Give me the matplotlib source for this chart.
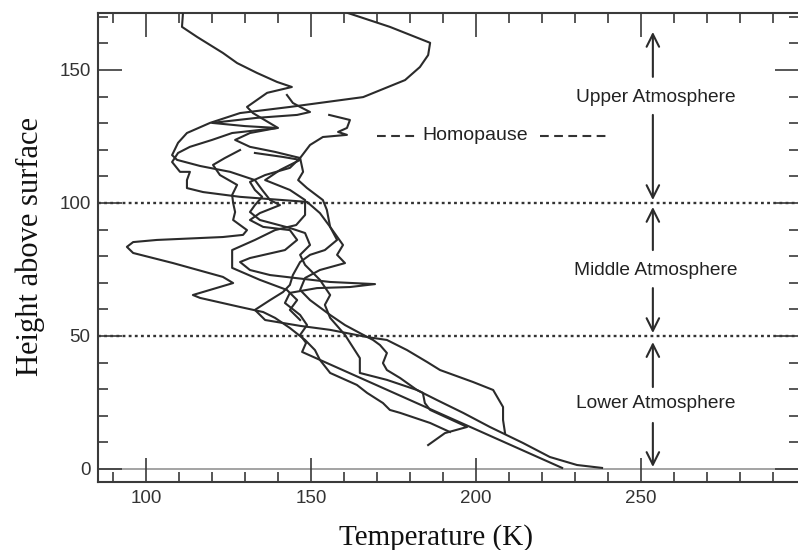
import matplotlib
matplotlib.use("Agg")
import matplotlib.pyplot as plt
from matplotlib.ticker import MultipleLocator

# Temperature profiles (K) against height above surface
temp_a = [111.2, 110.9, 115.5, 123.3, 127.6, 133.6, 139.7, 144.2, 136.7, 130.6, 132.4, 140.0,
          126.1, 120.0, 113.3, 109.7, 107.9, 110.3, 113.3, 112.4, 112.4, 117.3, 128.5, 148.8,
          152.7, 155.8, 157.9, 154.2, 149.7, 146.7, 144.5, 143.6, 141.5, 137.6, 133.0, 136.1,
          146.7, 155.8, 167.0, 173.0, 179.1, 185.2, 189.1, 199.1, 205.2, 208.2, 208.2, 208.8]
height_a = [171.4, 166.2, 162.4, 156.4, 152.6, 148.9, 145.5, 143.6, 141.4, 136.1, 133.8, 128.2,
            126.3, 123.7, 121.1, 118.8, 115.4, 111.7, 111.7, 108.6, 105.6, 104.1, 102.3, 100.4,
            96.2, 91.0, 86.1, 82.3, 80.5, 77.8, 72.9, 69.2, 66.5, 63.5, 59.8, 56.0,
            53.8, 52.3, 49.6, 48.5, 44.7, 40.2, 37.2, 32.7, 29.7, 23.3, 18.4, 13.5]

temp_b = [161.2, 173.9, 186.1, 185.5, 183.0, 178.5, 165.8, 143.6, 128.5, 119.4, 112.4, 109.7,
          107.9, 109.4, 116.4, 125.5, 133.0, 135.2, 137.6, 140.6, 134.5, 131.5, 135.5, 143.6,
          145.8, 142.1, 131.5, 128.5, 131.5, 137.6, 145.2, 155.8, 169.4, 161.8, 151.8, 143.6,
          142.1, 146.7, 148.8, 146.7, 148.5, 147.3, 226.1]
height_b = [171.4, 166.2, 160.2, 155.6, 151.1, 146.2, 139.8, 136.1, 133.8, 130.1, 126.3, 122.6,
            118.0, 116.2, 113.9, 111.7, 108.6, 104.9, 101.1, 99.2, 96.2, 93.6, 91.0, 89.8,
            86.1, 82.3, 79.3, 77.8, 74.8, 72.9, 71.8, 70.3, 69.5, 68.4, 68.0, 66.2,
            62.4, 57.9, 54.1, 50.4, 47.4, 44.0, 0.4]

temp_c = [155.5, 161.8, 160.9, 158.2, 160.9, 153.6, 149.7, 146.7, 147.6, 146.1, 148.8, 153.6,
          154.8, 155.8, 159.7, 157.9, 160.3, 152.7, 148.2, 146.7, 149.7, 155.8, 160.3, 164.8,
          168.8, 170.9, 173.0, 171.8, 173.0, 177.0, 182.1, 183.9, 184.5, 186.1, 196.1, 197.3,
          190.6, 185.5]
height_c = [133.1, 131.2, 128.2, 126.7, 125.6, 124.8, 121.8, 116.9, 111.7, 108.6, 105.6, 101.1,
            97.4, 91.0, 84.2, 80.5, 77.4, 74.8, 71.8, 67.3, 63.5, 57.9, 54.1, 51.1,
            48.5, 46.6, 43.6, 39.8, 37.2, 34.2, 29.7, 28.6, 24.8, 22.2, 16.5, 15.8,
            13.5, 9.0]

temp_d = [142.7, 144.5, 146.7, 149.7, 145.8, 133.6, 120.0, 130.0, 139.7, 131.5, 127.0, 131.5,
          139.1, 146.7, 143.6, 136.1, 131.5, 133.0, 135.2, 133.0, 131.5, 134.5, 143.6, 148.2,
          149.7, 146.7, 148.2, 152.7, 155.8, 154.2, 155.8, 160.3, 164.8, 164.8, 173.0, 182.1,
          188.2, 196.1, 204.2, 214.2, 222.4, 230.6, 238.2]
height_d = [140.6, 137.6, 136.1, 134.2, 133.1, 132.0, 130.1, 128.9, 128.2, 126.3, 123.7, 121.1,
            119.2, 116.9, 113.2, 110.5, 107.9, 104.9, 102.3, 99.2, 96.6, 93.6, 90.6, 88.7,
            84.2, 80.5, 76.7, 71.1, 65.4, 61.7, 56.8, 50.4, 41.7, 36.1, 33.5, 29.7,
            25.9, 21.1, 15.8, 9.8, 4.5, 1.5, 0.4]

temp_e = [128.5, 123.9, 120.3, 122.4, 127.6, 126.1, 126.4, 127.0, 126.4, 130.6, 129.4, 123.3,
          103.3, 96.1, 94.2, 96.1, 108.2, 123.3, 126.4, 114.2, 116.4, 128.5, 135.5, 139.1,
          143.6, 148.2, 151.2, 152.7, 155.8, 163.9, 167.0, 171.8, 173.9, 177.0, 186.1, 192.1]
height_e = [119.9, 116.9, 114.3, 110.5, 106.8, 103.0, 100.0, 96.6, 93.6, 89.8, 88.0, 87.2,
            86.1, 85.3, 83.5, 81.2, 77.4, 72.2, 69.9, 65.4, 64.3, 60.9, 59.0, 56.8,
            53.0, 48.5, 44.7, 41.0, 36.1, 31.6, 28.6, 24.8, 22.2, 21.1, 17.3, 13.9]

temp_f = [133.0, 141.5, 146.7, 140.6, 136.1, 143.6, 148.2, 148.2, 145.5, 139.1, 133.0, 126.1,
          126.1, 134.5, 142.7, 145.8, 143.6, 146.7]
height_f = [118.8, 117.3, 116.2, 112.4, 108.6, 104.9, 101.1, 95.5, 91.7, 89.8, 86.1, 82.3,
            75.6, 71.1, 67.3, 63.5, 59.8, 56.0]

profile_temps = [temp_a, temp_b, temp_c, temp_d, temp_e, temp_f]
profile_heights = [height_a, height_b, height_c, height_d, height_e, height_f]

region_boundaries = [50, 100]
region_names = ["Upper Atmosphere", "Middle Atmosphere", "Lower Atmosphere"]
region_label_heights = [139.5, 74.8, 24.8]
x_ticks = [100, 150, 200, 250]
y_ticks = [0, 50, 100, 150]

ink = "#2b2b2b"
fig = plt.figure(figsize=(7.98, 5.5), dpi=100)
ax = fig.add_axes([0.1222, 0.1236, 0.8791, 0.8527])
ax.set_xlim(85.3, 297.9)
ax.set_ylim(-4.9, 171.4)

# surface line and region boundaries
ax.axhline(0, color="#8a8a8a", lw=1.1, zorder=1)
for yb in region_boundaries:
    ax.axhline(yb, color="#333333", lw=1.7, ls=(0, (1.2, 1.4)), zorder=1)

for t, h in zip(profile_temps, profile_heights):
    ax.plot(t, h, color=ink, lw=1.5, solid_joinstyle="round", zorder=3)

# region arrows and labels
arrow_x = 253.6
arrow_kw = dict(arrowstyle="->,head_length=0.6,head_width=0.3", color=ink, lw=1.5,
                mutation_scale=15, shrinkA=0, shrinkB=0)
arrow_spans = [((147.4, 164.3), (133.1, 101.1)),
               ((82.3, 98.5), (68.0, 51.1)),
               ((30.8, 47.7), (17.3, 0.75))]
for (up, down), name, ly in zip(arrow_spans, region_names, region_label_heights):
    ax.annotate("", xy=(arrow_x, up[1]), xytext=(arrow_x, up[0]), arrowprops=arrow_kw)
    ax.annotate("", xy=(arrow_x, down[1]), xytext=(arrow_x, down[0]), arrowprops=arrow_kw)
    ax.text(arrow_x + 0.8, ly, name, ha="center", va="center", fontsize=13.8,
            family="Liberation Sans", color="#222222")

# homopause key
hp_y = 125.2
dash = (0, (4.2, 2.6))
ax.plot([170.0, 181.5], [hp_y, hp_y], color="#333333", lw=1.5, ls=dash)
ax.plot([219.4, 240.6], [hp_y, hp_y], color="#333333", lw=1.5, ls=dash)
ax.text(199.8, hp_y, "Homopause", ha="center", va="center", fontsize=14,
        family="Liberation Sans", color="#222222")

# axes styling
for s in ax.spines.values():
    s.set_color("#3a3a3a")
    s.set_linewidth(1.5)
ax.set_xticks(x_ticks)
ax.set_yticks(y_ticks)
ax.xaxis.set_minor_locator(MultipleLocator(10))
ax.yaxis.set_minor_locator(MultipleLocator(10))
ax.tick_params(which="both", direction="in", top=True, right=True, color="#3a3a3a",
               width=1.2, labelcolor="#333333", labelsize=13.5)
ax.tick_params(which="major", length=17)
ax.tick_params(which="minor", length=7)
ax.tick_params(axis="x", pad=6)
ax.tick_params(axis="y", pad=5)
for lab in ax.get_xticklabels() + ax.get_yticklabels():
    lab.set_family("Liberation Sans")

fig.text(436 / 798, 1 - 538 / 550, "Temperature (K)", ha="center", va="center",
         fontsize=21, family="Liberation Serif", color="#111111")
fig.text(30 / 798, 1 - 246 / 550, "Height above surface", ha="center", va="center",
         rotation=90, fontsize=22, family="Liberation Serif", color="#111111")

fig.savefig("out.png", dpi=100)
